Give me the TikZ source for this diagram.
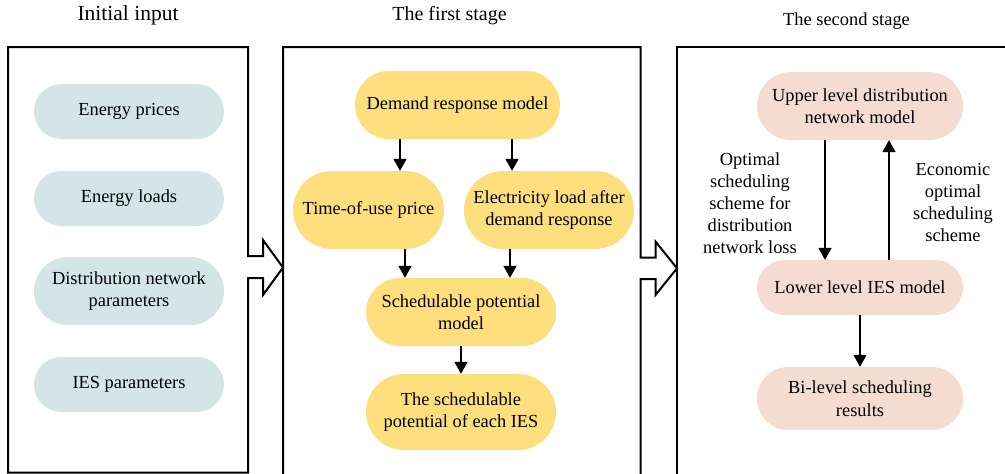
\documentclass[tikz,border=0pt]{standalone}
\usepackage{fontspec}
\setmainfont{Liberation Serif}
\usetikzlibrary{arrows.meta}
\definecolor{inblue}{HTML}{D5E4E6}
\definecolor{styellow}{HTML}{FFDE7D}
\definecolor{ndpink}{HTML}{F4DCD0}
\tikzset{
  pill/.style n args={3}{fill=#1, minimum width=#2, minimum height=#3, rounded corners=#3/2,
    inner sep=0pt, align=center, font=\fontsize{18.4}{22.5}\selectfont},
  frame/.style={line width=2pt, line join=miter},
  arr/.style={line width=1.6pt, -{Triangle[width=13pt,length=12pt]}},
  lbl/.style={align=center, font=\fontsize{18.4}{22}\selectfont, inner sep=0pt},
  ttl/.style={anchor=base, inner sep=0pt}
}
\begin{document}
\begin{tikzpicture}[x=1pt,y=-1pt]
\useasboundingbox (0,0) rectangle (1005,474);
\clip (0,0) rectangle (1005,474);
% titles
\node[ttl, font=\fontsize{21.5}{24}\selectfont] (t1) at (128,20) {Initial input};
\node[ttl, font=\fontsize{20}{24}\selectfont] (t2) at (449.5,20) {The first stage};
\node[ttl, font=\fontsize{18.4}{22}\selectfont] (t3) at (846.5,25) {The second stage};
% frames
\draw[frame] (8,472.5) -- (8,47) -- (248,47) -- (248,256) -- (263,256) -- (263,240)
  -- (283,267.5) -- (263,295) -- (263,278) -- (248,278) -- (248,472.5) -- cycle;
\draw[frame] (283,475) -- (283,47) -- (640.5,47) -- (640.5,257.5) -- (655.5,257.5) -- (655.5,241.5)
  -- (677,268.3) -- (655.5,295) -- (655.5,279) -- (640.5,279) -- (640.5,475) -- cycle;
\draw[frame] (677,475) -- (677,47) -- (1010,47) -- (1010,475) -- cycle;
% initial input
\node[pill={inblue}{190}{55}] (ep) at (129,111.5) {Energy prices};
\node[pill={inblue}{190}{55}] (el) at (129,198.5) {Energy loads};
\node[pill={inblue}{190}{68}] (dn) at (129,291) {Distribution network\\parameters};
\node[pill={inblue}{190}{55}] (ies) at (129,384.5) {IES parameters};
% first stage
\node[pill={styellow}{205}{68}] (drm) at (457.5,105) {Demand response model};
\node[pill={styellow}{151}{78}] (tou) at (368.5,210) {Time-of-use price};
\node[pill={styellow}{170}{78}] (eld) at (549,210) {Electricity load after\\demand response};
\node[pill={styellow}{190}{68}] (spm) at (461,312) {Schedulable potential\\model};
\node[pill={styellow}{190}{76}] (tsp) at (461,412) {The schedulable\\potential of each IES};
\draw[arr] ([xshift=-57.5pt]drm.south) -- ([xshift=-57.5pt]drm.south |- tou.north);
\draw[arr] ([xshift=54.5pt]drm.south) -- ([xshift=54.5pt]drm.south |- eld.north);
\draw[arr] ([xshift=36.5pt]tou.south) -- ([xshift=36.5pt]tou.south |- spm.north);
\draw[arr] ([xshift=-39pt]eld.south) -- ([xshift=-39pt]eld.south |- spm.north);
\draw[arr] (spm.south) -- (tsp.north);
% second stage
\node[pill={ndpink}{206}{68}] (up) at (860,106) {Upper level distribution\\network model};
\node[pill={ndpink}{206}{55}] (low) at (860,287.5) {Lower level IES model};
\node[pill={ndpink}{206}{63}] (bi) at (860,398.5) {Bi-level scheduling\\results};
\draw[arr] ([xshift=-35pt]up.south) -- ([xshift=-35pt]up.south |- low.north);
\draw[arr] ([xshift=29pt]low.north) -- ([xshift=29pt]low.north |- up.south);
\draw[arr] (low.south) -- (bi.north);
\node[lbl] (l1) at (750,203) {Optimal\\scheduling\\scheme for\\distribution\\network loss};
\node[lbl] (l2) at (953,202.5) {Economic\\optimal\\scheduling\\scheme};
\end{tikzpicture}
\end{document}
